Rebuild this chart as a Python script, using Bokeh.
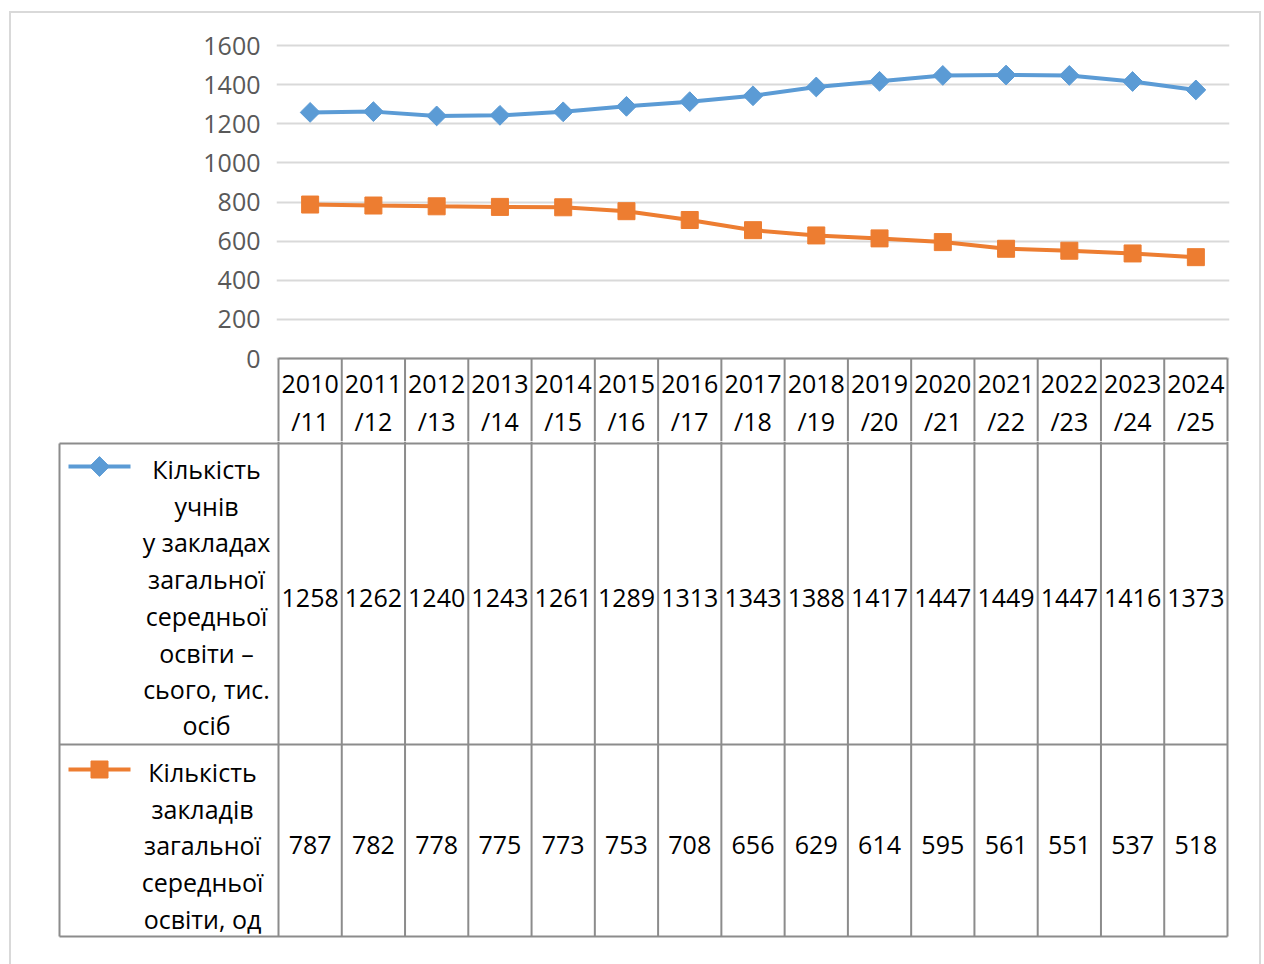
from bokeh.plotting import figure
from bokeh.layouts import column
from bokeh.models import Range1d, FixedTicker
from bokeh.core.properties import value
from bokeh.embed import file_html
from bokeh.resources import INLINE
import math

# ---------------- data ----------------
years = ["2010/11", "2011/12", "2012/13", "2013/14", "2014/15", "2015/16", "2016/17",
         "2017/18", "2018/19", "2019/20", "2020/21", "2021/22", "2022/23", "2023/24", "2024/25"]
pupils = [1258, 1262, 1240, 1243, 1261, 1289, 1313, 1343, 1388, 1417, 1447, 1449, 1447, 1416, 1373]
schools = [787, 782, 778, 775, 773, 753, 708, 656, 629, 614, 595, 561, 551, 537, 518]
pupils_label = ["Кількість", "учнів", "у закладах", "загальної", "середньої",
                "освіти –", "сього, тис.", "осіб"]
schools_label = ["Кількість", "закладів", "загальної", "середньої", "освіти, од"]
y_ticks = [0, 200, 400, 600, 800, 1000, 1200, 1400, 1600]

# ---------------- style / layout ----------------
BLUE = "#5B9BD5"
ORANGE = "#ED7D31"
GRID = "#d9d9d9"
TABLE = "#8c8c8c"
FONT = "Open Sans"
FS = "25px"

n = len(years)
idx = list(range(n))
PX = 949 / n                     # pixels per category
S = 313 / 1600                   # pixels per value unit
ORIGIN_X = 278                   # page x of left edge of category area
ZERO_Y = 358                     # page y of value 0
OFF_X = 11                       # page x of figures' left edge
OFF_Y = 13                       # page y of top figure's top edge
RIGHT = 1259                     # page x of figures' right edge
W = RIGHT - OFF_X
SPLIT = 441                      # page y where bottom figure starts
BOTTOM = 964


def px_to_x(px):
    return (px - ORIGIN_X) / PX - 0.5


def py_to_val(py):
    return (ZERO_Y - py) / S


# ---------------- top figure: chart + header row ----------------
top = figure(width=W, height=SPLIT - OFF_Y, output_backend="svg", toolbar_location=None,
             x_range=Range1d(px_to_x(276), px_to_x(1229)),
             y_range=Range1d(py_to_val(SPLIT), py_to_val(40)),
             min_border_left=276 - OFF_X, min_border_right=RIGHT - 1229,
             min_border_top=40 - OFF_Y, min_border_bottom=0,
             x_axis_location=None, frame_align=False)
top.outline_line_color = None
top.background_fill_color = "white"
top.border_fill_color = "white"
top.xgrid.grid_line_color = None
top.yaxis.ticker = FixedTicker(ticks=y_ticks)
top.ygrid.ticker = FixedTicker(ticks=y_ticks)
top.ygrid.grid_line_color = GRID
top.ygrid.grid_line_width = 2
top.yaxis.axis_line_color = None
top.yaxis.major_tick_line_color = None
top.yaxis.minor_tick_line_color = None
top.yaxis.major_label_text_font = FONT
top.yaxis.major_label_text_font_size = FS
top.yaxis.major_label_text_color = "#595959"
top.yaxis.major_label_standoff = 10

# table header frame
bottom_val = py_to_val(SPLIT)
top.segment(x0=[k - 0.5 for k in range(n + 1)], y0=[0] * (n + 1),
            x1=[k - 0.5 for k in range(n + 1)], y1=[bottom_val] * (n + 1),
            line_color=TABLE, line_width=2)
top.segment(x0=[-0.5], y0=[0], x1=[n - 0.5], y1=[0], line_color=TABLE, line_width=2)

top_lines = [y.split("/")[0] for y in years]
bot_lines = ["/" + y.split("/")[1] for y in years]
top.text(x=idx, y=[py_to_val(383)] * n, text=top_lines, text_align="center",
         text_baseline="middle", text_font=value(FONT), text_font_size=FS, text_color="black")
top.text(x=idx, y=[py_to_val(420)] * n, text=bot_lines, text_align="center",
         text_baseline="middle", text_font=value(FONT), text_font_size=FS, text_color="black")

# series
top.line(idx, pupils, line_color=BLUE, line_width=4)
top.scatter(idx, pupils, marker="square", angle=math.pi / 4, size=14,
            fill_color=BLUE, line_color=BLUE)
top.line(idx, schools, line_color=ORANGE, line_width=4)
top.scatter(idx, schools, marker="square", size=17, fill_color=ORANGE, line_color=ORANGE)

# ---------------- bottom figure: data table ----------------
bot = figure(width=W, height=BOTTOM - SPLIT, output_backend="svg", toolbar_location=None,
             x_range=Range1d(px_to_x(57), px_to_x(1229)),
             y_range=Range1d(BOTTOM, SPLIT),
             min_border_left=57 - OFF_X, min_border_right=RIGHT - 1229,
             min_border_top=0, min_border_bottom=0,
             x_axis_location=None, y_axis_location=None, frame_align=False)
bot.outline_line_color = None
bot.grid.grid_line_color = None
bot.background_fill_color = "white"
bot.border_fill_color = "white"

xl = px_to_x(59)
row_tops = [443, 744, 936]
bot.segment(x0=[xl] * 3, y0=row_tops, x1=[n - 0.5] * 3, y1=row_tops,
            line_color=TABLE, line_width=2)
bot.segment(x0=[xl], y0=[443], x1=[xl], y1=[936], line_color=TABLE, line_width=2)
bot.segment(x0=[k - 0.5 for k in range(n + 1)], y0=[SPLIT] * (n + 1),
            x1=[k - 0.5 for k in range(n + 1)], y1=[936] * (n + 1),
            line_color=TABLE, line_width=2)

bot.text(x=idx, y=[597] * n, text=[str(v) for v in pupils], text_align="center",
         text_baseline="middle", text_font=value(FONT), text_font_size=FS, text_color="black")
bot.text(x=idx, y=[844] * n, text=[str(v) for v in schools], text_align="center",
         text_baseline="middle", text_font=value(FONT), text_font_size=FS, text_color="black")

# legend keys
bot.segment(x0=[px_to_x(68)], y0=[466], x1=[px_to_x(130)], y1=[466], line_color=BLUE, line_width=4)
bot.scatter([px_to_x(99)], [466], marker="square", angle=math.pi / 4, size=14,
            fill_color=BLUE, line_color=BLUE)
bot.segment(x0=[px_to_x(68)], y0=[769], x1=[px_to_x(130)], y1=[769], line_color=ORANGE, line_width=4)
bot.scatter([px_to_x(99)], [769], marker="square", size=17, fill_color=ORANGE, line_color=ORANGE)

# legend labels
p_y = [468, 505, 541, 578, 615, 652, 688, 724]
bot.text(x=[px_to_x(206)] * len(pupils_label), y=p_y, text=pupils_label, text_align="center",
         text_baseline="middle", text_font=value(FONT), text_font_size=FS, text_color="black")
s_y = [771, 808, 844, 881, 918]
bot.text(x=[px_to_x(202)] * len(schools_label), y=s_y, text=schools_label, text_align="center",
         text_baseline="middle", text_font=value(FONT), text_font_size=FS, text_color="black")

layout = column(top, bot, spacing=0,
                styles={"border-style": "solid", "border-color": GRID,
                        "border-width": "2px 2px 0 2px", "background": "white",
                        "margin-left": "9px", "margin-top": "11px"})

open("out.html", "w").write(file_html(layout, INLINE))
